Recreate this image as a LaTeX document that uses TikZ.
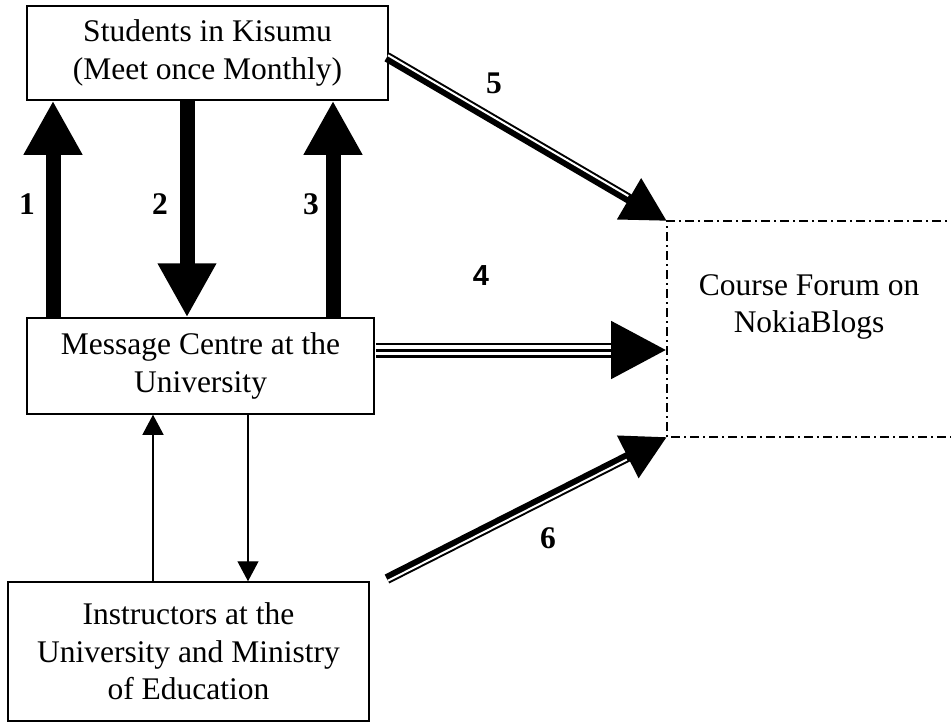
\documentclass[tikz,border=0pt]{standalone}
\usepackage{fontspec}
\setmainfont{Liberation Serif}
\newfontfamily\arialfont{Liberation Sans}
\usetikzlibrary{arrows.meta,calc}
\begin{document}
\begin{tikzpicture}[x=1pt,y=-1pt,
  box/.style={draw, line width=1.5pt, align=center, inner sep=0pt, font=\fontsize{31.5}{37.5}\selectfont},
  plain/.style={align=center, inner sep=0pt, font=\fontsize{31.5}{37.5}\selectfont},
  lbl/.style={font=\fontsize{31.5}{37.5}\selectfont\bfseries, inner sep=0pt},
  fat/.style={line width=15pt, -{Triangle[width=55pt,length=54pt]}},
  slim/.style={line width=1.2pt, -{Triangle[width=21pt,length=20pt]}},
  dbl/.style={line width=10pt, -{Triangle[width=45pt,length=44pt]}},
  gap/.style={white, line width=2pt},
  forumline/.style={line width=1.5pt, dash pattern=on 9pt off 4pt on 2pt off 4pt},
]
\useasboundingbox (0,0) rectangle (951,725);

% boxes
\node[box, minimum width=361pt, minimum height=94pt] (stu) at (207.5,53) {Students in Kisumu\\(Meet once Monthly)};
\node[box, minimum width=347pt, minimum height=96pt] (msg) at (200.5,366) {Message Centre at the\\University};
\node[box, minimum width=361pt, minimum height=139pt] (ins) at (188.5,651.5) {Instructors at the\\University and Ministry\\of Education};

% forum
\coordinate (fnw) at (667,221);
\coordinate (fsw) at (667,437);
\coordinate (fne) at (960,221);
\coordinate (fse) at (960,437);
\node[plain] (forum) at (809,307) {Course Forum on\\NokiaBlogs};
\draw[forumline] (fne) -- (fnw) -- (fsw) -- (fse);

% thick vertical arrows
\coordinate (x1) at (53,0);
\coordinate (x2) at (187,0);
\coordinate (x3) at (333,0);
\draw[fat] (x1 |- msg.north) -- (x1 |- stu.south);
\draw[fat] (x2 |- stu.south) -- (x2 |- msg.north);
\draw[fat] (x3 |- msg.north) -- (x3 |- stu.south);

% thin arrows
\coordinate (x4) at (153,0);
\coordinate (x5) at (248,0);
\draw[slim] (x4 |- ins.north) -- (x4 |- msg.south);
\draw[slim] (x5 |- msg.south) -- (x5 |- ins.north);

% arrow 5
\coordinate (s5) at (387,57);
\draw[dbl] (s5) -- (fnw);
\draw[gap] ($(s5)!2pt!90:(fnw)$) -- ($($(fnw)!46pt!(s5)$)!2pt!-90:(s5)$);

% arrow 6
\coordinate (s6) at (387,579);
\draw[dbl] (s6) -- (fsw);
\draw[gap] ($(s6)!2pt!-90:(fsw)$) -- ($($(fsw)!46pt!(s6)$)!2pt!90:(s6)$);

% arrow 4
\coordinate (y4) at (0,350);
\coordinate (s4) at ($(msg.east |- y4)+(1,0)$);
\coordinate (t4) at (fnw |- y4);
\draw[line width=15pt, -{Triangle[width=54pt,length=56pt]}] (s4) -- (t4);
\draw[white, line width=10pt] (s4) -- ($(t4)!56pt!(s4)$);
\draw[line width=3pt] (s4) -- ($(t4)!56pt!(s4)$);

% labels
\node[lbl] (l1) at (27,204) {1};
\node[lbl] (l2) at (160,204) {2};
\node[lbl] (l3) at (311,204) {3};
\node[lbl, font=\fontsize{29}{34}\selectfont\arialfont\bfseries] (l4) at (481,276) {4};
\node[lbl] (l5) at (494,83) {5};
\node[lbl] (l6) at (548,538) {6};
\end{tikzpicture}
\end{document}
